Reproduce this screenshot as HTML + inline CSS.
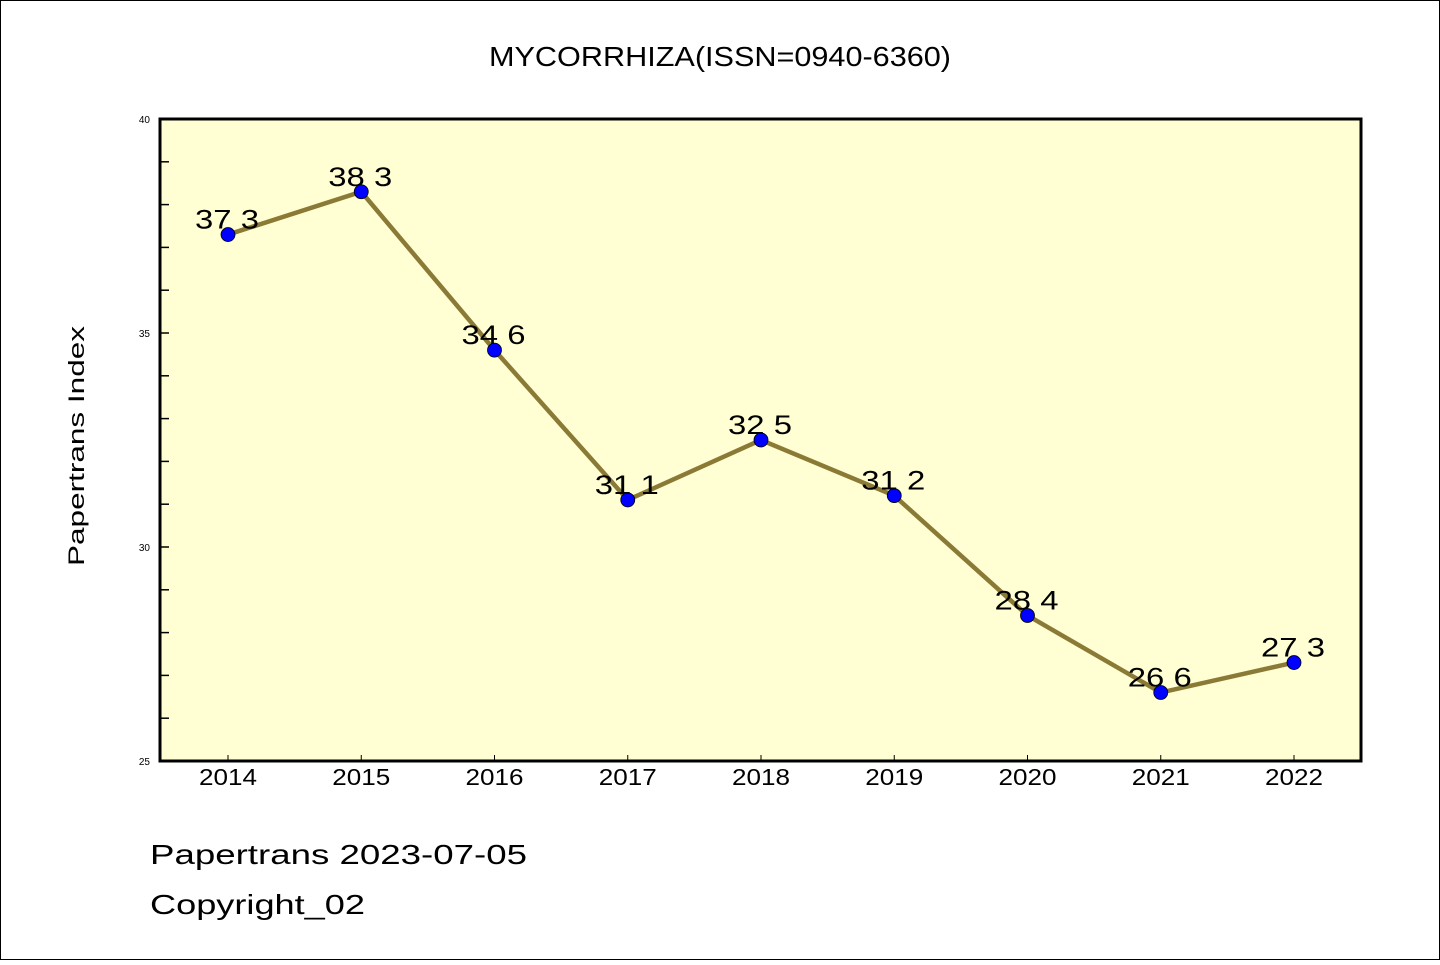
<!DOCTYPE html>
<html><head><meta charset="utf-8"><style>
body{margin:0;background:#fff;}
svg text{font-family:"Liberation Sans",sans-serif;}
</style></head><body>
<svg id="chart" width="1440" height="960" xmlns="http://www.w3.org/2000/svg">
<rect x="0.5" y="0.5" width="1439" height="959" fill="#fff" stroke="#000"/>
<text x="489" y="66" font-size="28" textLength="462" lengthAdjust="spacingAndGlyphs">MYCORRHIZA(ISSN=0940-6360)</text>
<rect x="160" y="119" width="1201" height="642" fill="#ffffd3"/>
<g id="marks"></g>
<rect x="160" y="119" width="1201" height="642" fill="none" stroke="#000" stroke-width="3"/>
<text transform="translate(84,566) rotate(-90)" font-size="22" textLength="240" lengthAdjust="spacingAndGlyphs">Papertrans Index</text>
<text x="150" y="864" font-size="28" textLength="377" lengthAdjust="spacingAndGlyphs">Papertrans 2023-07-05</text>
<text x="150" y="914" font-size="28" textLength="215" lengthAdjust="spacingAndGlyphs">Copyright_02</text>
</svg>
<script>
const categories=["2014","2015","2016","2017","2018","2019","2020","2021","2022"];
const values=[37.3,38.3,34.6,31.1,32.5,31.2,28.4,26.6,27.3];
const yTicks=[25,30,35,40];
const yMin=25,yMax=40;
const NS="http://www.w3.org/2000/svg";
const g=document.getElementById("marks");
function xs(i){return 228+i*(1294-228)/(categories.length-1);}
function ys(v){return 761-(v-yMin)*(761-119)/(yMax-yMin);}
function mk(t,a){const e=document.createElementNS(NS,t);for(const k in a)e.setAttribute(k,a[k]);g.appendChild(e);return e;}
for(let v=yMin+1;v<yMax;v++){
  const t=mk("line",{x1:160,x2:169,y1:ys(v),y2:ys(v),stroke:"#000","stroke-width":1.5});
  
  
}
yTicks.forEach(v=>{
  const t=mk("text",{x:150,y:ys(v)+4,"font-size":10,"text-anchor":"end"});
  t.textContent=v;
  
  
});
categories.forEach((c,i)=>{
  const tk=mk("line",{x1:xs(i),x2:xs(i),y1:761,y2:755,stroke:"#000","stroke-width":1});
  
  
  const t=mk("text",{x:xs(i)-29,y:785,"font-size":23,textLength:58,lengthAdjust:"spacingAndGlyphs"});
  t.textContent=c;
  
  
});
const pts=values.map((v,i)=>xs(i)+","+ys(v)).join(" ");
const line=mk("polyline",{points:pts,fill:"none",stroke:"#8b7a36","stroke-width":4.5});


values.forEach((v,i)=>{
  const c=mk("circle",{cx:xs(i),cy:ys(v),r:7,fill:"#0000ff",stroke:"#000","stroke-width":0.8});
  
  
  const t=mk("text",{x:xs(i)-33,y:ys(v)-6,"font-size":27,textLength:64,lengthAdjust:"spacingAndGlyphs"});
  t.textContent=v.toFixed(1).replace("."," ");
  
  
});
</script>
</body></html>
